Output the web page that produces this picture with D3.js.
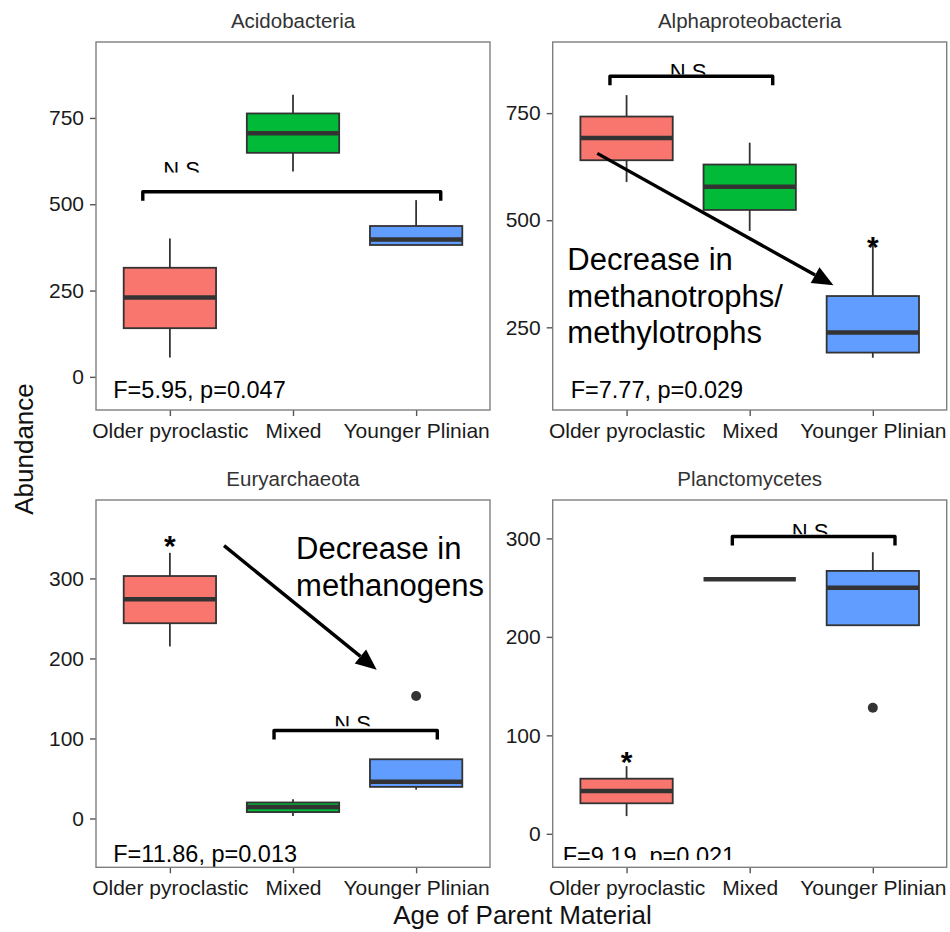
<!DOCTYPE html>
<html>
<head>
<meta charset="utf-8">
<script src="https://cdn.jsdelivr.net/npm/d3@7"></script>
<style>
  body { margin: 0; background: #fff; }
  svg { display: block; font-family: "Liberation Sans", Arial, sans-serif; }
  .frame { fill: none; stroke: #7f7f7f; stroke-width: 1.4; }
  .tick line { stroke: #555; stroke-width: 1.4; }
  .tick text { fill: #1a1a1a; font-size: 21px; }
  .domain { display: none; }
  .title { fill: #333; font-size: 20.5px; }
  .axis-title { fill: #111; font-size: 26px; }
  .box { stroke: #333; stroke-width: 1.8; }
  .median { stroke: #333; stroke-width: 4.5; }
  .whisker { stroke: #333; stroke-width: 1.8; }
  .outlier { fill: #333; }
  .bracket { fill: none; stroke: #000; stroke-width: 3.4; stroke-linejoin: round; }
  .ns { fill: #000; font-size: 22px; }
  .fstat { fill: #000; font-size: 23.5px; }
  .star { fill: #000; font-size: 30px; font-weight: bold; }
  .note { fill: #000; font-size: 31px; }
  .arrow { stroke: #000; stroke-width: 3.4; }
</style>
</head>
<body>
<div id="chart"></div>
<script>
// Four facets of abundance by parent material, ggplot style, with hand-added
// brackets, stars and arrows.
const groups = ["Older pyroclastic", "Mixed", "Younger Plinian"];
const fills = ["#F8766D", "#00BA38", "#619CFF"];
const panelNames = ["Acidobacteria", "Alphaproteobacteria", "Euryarchaeota", "Planctomycetes"];

// box stats per group: [lower whisker, q1, median, q3, upper whisker]
const acidoStats = [[56, 141, 230, 316, 401], [595, 649, 706, 763, 817], [382, 382, 398, 437, 512]];
const alphaStats = [[589, 640, 692, 742, 792], [475, 524, 578, 630, 681], [179, 191, 238, 323, 442]];
const euryStats = [[215, 244, 274, 303, 332], [3, 8, 14.5, 20, 24], [36, 39.5, 46, 74, 74]];
const plancStats = [[18, 31, 43.6, 56, 68.7], [258.6, 258.6, 258.6, 258.6, 258.6], [211.8, 211.8, 250, 267, 286]];
const euryOutliers = [[], [], [153]];
const plancOutliers = [[], [], [128]];

const yDomains = [[-96, 970], [57, 916], [-61, 398], [-34, 339]];
const yTicks = [[0, 250, 500, 750], [250, 500, 750], [0, 100, 200, 300], [0, 100, 200, 300]];

// annotations, in data units (x = group position 1..3)
const statLabels = ["F=5.95, p=0.047", "F=7.77, p=0.029", "F=11.86, p=0.013", "F=9.19, p=0.021"];
const statPos = [[0.54, -61], [0.546, 85], [0.54, -54], [0.481, -31]];
const brackets = [[0.78, 3.2, 536], [0.865, 2.187, 836], [1.846, 3.172, 110], [1.859, 3.18, 302]];
const nsPos = [[1.096, 624], [1.5, 866], [2.485, 129], [2.49, 315.5]];
const stars = [null, [3, 454], [1, 349], [1, 80]];
const arrows = [null, [0.762, 656, 2.68, 348], [1.44, 341, 2.68, 186], null];
const notes = [null, ["Decrease in", "methanotrophs/", "methylotrophs"], ["Decrease in", "methanogens"], null];
const notePos = [null, [0.519, 383.6], [2.025, 324], null];

const panels = [
  { stats: acidoStats, outliers: [[], [], []] },
  { stats: alphaStats, outliers: [[], [], []] },
  { stats: euryStats, outliers: euryOutliers },
  { stats: plancStats, outliers: plancOutliers }
];

const W = 950, H = 932;
const cols = [[96, 490], [552.7, 946.7]];
const rows = [[42, 410], [500, 867.3]];

const svg = d3.select("#chart").append("svg").attr("width", W).attr("height", H);
const defs = svg.append("defs");

panels.forEach((pd, k) => {
  const [x0, x1] = cols[k % 2];
  const [y0, y1] = rows[Math.floor(k / 2)];
  const x = d3.scaleLinear([0.4, 3.6], [x0, x1]);
  const y = d3.scaleLinear(yDomains[k], [y1, y0]);
  const g = svg.append("g");
  const bw = (x(1.375) - x(1));

  g.append("text").attr("class", "title").attr("text-anchor", "middle")
    .attr("x", (x0 + x1) / 2).attr("y", y0 - 14).text(panelNames[k]);

  // axes
  g.append("g").attr("transform", `translate(${x0},0)`)
    .call(d3.axisLeft(y).tickValues(yTicks[k]).tickSize(6).tickPadding(6));
  g.append("g").attr("transform", `translate(0,${y1})`)
    .call(d3.axisBottom(x).tickValues([1, 2, 3]).tickSize(6).tickPadding(7)
      .tickFormat((d) => groups[d - 1]));

  // boxes
  pd.stats.forEach((s, i) => {
    const cx = x(i + 1);
    const [lo, q1, med, q3, hi] = s;
    if (hi > q3) g.append("line").attr("class", "whisker").attr("x1", cx).attr("x2", cx).attr("y1", y(hi)).attr("y2", y(q3));
    if (lo < q1) g.append("line").attr("class", "whisker").attr("x1", cx).attr("x2", cx).attr("y1", y(q1)).attr("y2", y(lo));
    if (q3 > q1) {
      g.append("rect").attr("class", "box").attr("fill", fills[i])
        .attr("x", cx - bw).attr("width", bw * 2)
        .attr("y", y(q3)).attr("height", y(q1) - y(q3));
    }
    g.append("line").attr("class", "median").attr("x1", cx - bw).attr("x2", cx + bw)
      .attr("y1", y(med)).attr("y2", y(med));
    pd.outliers[i].forEach((v) => {
      g.append("circle").attr("class", "outlier").attr("cx", cx).attr("cy", y(v)).attr("r", 5);
    });
  });

  // bracket
  const b = brackets[k];
  const by = y(b[2]);
  g.append("path").attr("class", "bracket")
    .attr("d", `M${x(b[0])},${by + 9}V${by}H${x(b[1])}V${by + 9}`);

  // N.S label, only its upper part shows
  const nsTop = y(nsPos[k][1]);
  defs.append("clipPath").attr("id", `ns-clip-${k}`).append("rect")
    .attr("x", x0).attr("width", x1 - x0).attr("y", nsTop - 8).attr("height", 19);
  g.append("text").attr("class", "ns").attr("text-anchor", "middle")
    .attr("clip-path", `url(#ns-clip-${k})`)
    .attr("x", x(nsPos[k][0])).attr("y", nsTop + 16).text("N.S");

  // F statistic
  const ft = g.append("text").attr("class", "fstat")
    .attr("x", x(statPos[k][0])).attr("y", y(statPos[k][1])).text(statLabels[k]);
  if (k === 3) {
    defs.append("clipPath").attr("id", "f-clip").append("rect")
      .attr("x", x0).attr("width", x1 - x0).attr("y", y0).attr("height", 860 - y0);
    ft.attr("clip-path", "url(#f-clip)");
  }

  if (stars[k]) {
    g.append("text").attr("class", "star").attr("text-anchor", "middle")
      .attr("x", x(stars[k][0])).attr("y", y(stars[k][1]) + 17).text("*");
  }

  if (arrows[k]) {
    const [ax0, ay0, ax1, ay1] = arrows[k];
    const sx = x(ax0), sy = y(ay0), ex = x(ax1), ey = y(ay1);
    const ang = Math.atan2(ey - sy, ex - sx);
    const hl = 21, hw = 9;
    const bx = ex - hl * Math.cos(ang), byy = ey - hl * Math.sin(ang);
    g.append("line").attr("class", "arrow").attr("x1", sx).attr("y1", sy).attr("x2", bx).attr("y2", byy);
    g.append("path").attr("fill", "#000").attr("d",
      `M${ex},${ey}L${bx + hw * Math.sin(ang)},${byy - hw * Math.cos(ang)}` +
      `L${bx - hw * Math.sin(ang)},${byy + hw * Math.cos(ang)}Z`);
  }

  if (notes[k]) {
    const t = g.append("text").attr("class", "note")
      .attr("x", x(notePos[k][0])).attr("y", y(notePos[k][1]));
    notes[k].forEach((ln, j) => {
      t.append("tspan").attr("x", x(notePos[k][0])).attr("dy", j === 0 ? 0 : 36.5).text(ln);
    });
  }

  g.append("rect").attr("class", "frame").attr("x", x0).attr("y", y0)
    .attr("width", x1 - x0).attr("height", y1 - y0);
});

svg.append("text").attr("class", "axis-title").attr("text-anchor", "middle")
  .attr("x", 522.5).attr("y", 924).text("Age of Parent Material");
svg.append("text").attr("class", "axis-title").attr("text-anchor", "middle")
  .attr("transform", "translate(33,449) rotate(-90)").text("Abundance");
</script>
</body>
</html>
